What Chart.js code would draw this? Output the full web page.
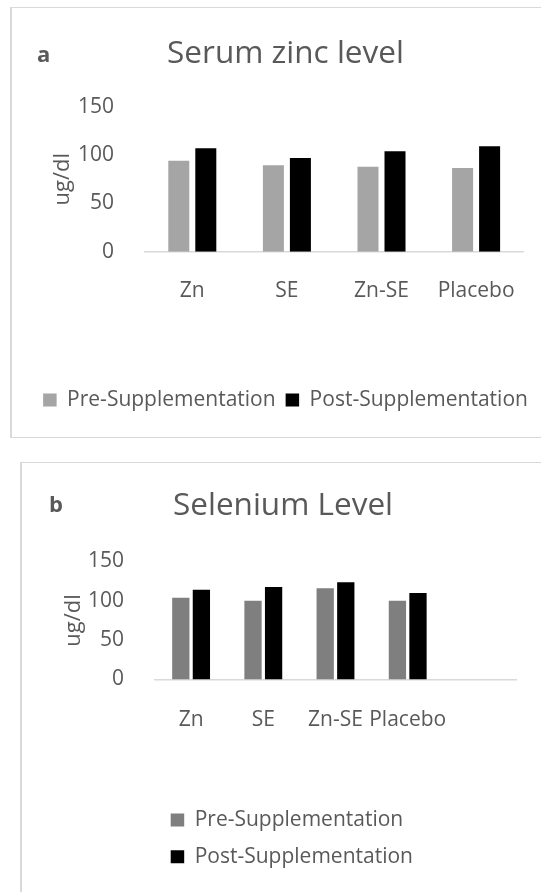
<!DOCTYPE html>
<html>
<head>
<meta charset="utf-8">
<script src="https://cdn.jsdelivr.net/npm/chart.js@4.4.1/dist/chart.umd.min.js"></script>
<style>
  html, body { margin: 0; padding: 0; width: 541px; height: 892px; overflow: hidden; background: #ffffff; font-family: "Open Sans", sans-serif; }
  .frame { position: absolute; box-sizing: border-box; border: 1px solid #D9D9D9; border-left-width: 2px; }
  #frameA { left: 10px; top: 7px; width: 600px; height: 431px; }
  #frameB { left: 20px; top: 462px; width: 600px; height: 500px; }
  .tag { position: absolute; font-family: "Open Sans", sans-serif; font-weight: 700; font-size: 22px; line-height: 22px; color: #595959; }
  .wrap { position: absolute; }
  #wrapA { left: 10px; top: 8px; width: 531px; height: 429px; }
  #wrapB { left: 20px; top: 463px; width: 521px; height: 429px; }
</style>
</head>
<body>
<div class="frame" id="frameA"></div>
<div class="frame" id="frameB"></div>
<div class="wrap" id="wrapA"><canvas id="chartA" width="531" height="429"></canvas></div>
<div class="wrap" id="wrapB"><canvas id="chartB" width="521" height="429"></canvas></div>
<div class="tag" style="left:37px;top:42px">a</div>
<div class="tag" style="left:49px;top:492px">b</div>
<script>
// Serum zinc (panel a)
const zincGroups = ['Zn', 'SE', 'Zn-SE', 'Placebo'];
const zincPre = [94, 89.5, 88, 86.5];
const zincPost = [107, 97, 104, 109];

// Selenium (panel b) – the axis keeps one empty slot at the end
const seleniumGroups = ['Zn', 'SE', 'Zn-SE', 'Placebo', ''];
const seleniumPre = [104, 100, 116, 100, null];
const seleniumPost = [114, 117.5, 123.5, 110, null];

const yTicks = [0, 50, 100, 150];
const seriesNames = ['Pre-Supplementation', 'Post-Supplementation'];

const TEXT = '#595959';
Chart.defaults.font.family = '"Open Sans", sans-serif';
Chart.defaults.color = TEXT;

function panel(canvasId, p) {
  return new Chart(document.getElementById(canvasId), {
    type: 'bar',
    data: {
      labels: p.labels,
      datasets: [
        { label: seriesNames[0], data: p.pre, backgroundColor: p.preColor, borderWidth: 0,
          categoryPercentage: p.cat, barPercentage: p.bar, yAxisID: 'y' },
        { label: seriesNames[1], data: p.post, backgroundColor: '#000000', borderWidth: 0,
          categoryPercentage: p.cat, barPercentage: p.bar, yAxisID: 'y' }
      ]
    },
    options: {
      responsive: false,
      animation: false,
      events: [],
      layout: { padding: { left: p.padLeft, right: 0, top: 0, bottom: p.padBottom } },
      plugins: {
        tooltip: { enabled: false },
        title: {
          display: true, text: p.title, color: TEXT,
          font: { size: 31.5, weight: 'normal', lineHeight: 1.2 },
          padding: { top: p.titleTop, bottom: p.titleBottom }
        },
        legend: {
          position: 'bottom', align: p.legendAlign, fullSize: p.legendFull,
          labels: { boxWidth: 13.5, boxHeight: 13, padding: p.legendPad, color: TEXT, font: { size: 21 } }
        }
      },
      scales: {
        x: {
          grid: { display: false },
          border: { display: true, color: '#D9D9D9', width: 1.5 },
          ticks: { padding: p.xPad, font: { size: 21 }, color: TEXT, maxRotation: 0, autoSkip: false },
          afterFit: s => { s.height = p.xHeight; }
        },
        y: {
          min: 0, max: 150,
          grid: { display: false },
          border: { display: false },
          ticks: { padding: 23, font: { size: 21 }, color: TEXT },
          afterBuildTicks: s => { s.ticks = yTicks.map(v => ({ value: v })); },
          title: { display: true, text: 'ug/dl', color: TEXT, font: { size: 22 }, padding: { top: p.yTitleTop, bottom: 0 } },
          afterFit: s => { s.width = p.yWidth; }
        },
        gap: {
          position: 'right', display: true,
          grid: { display: false }, border: { display: false }, ticks: { display: false },
          afterFit: s => { s.width = p.rightGap; }
        }
      }
    }
  });
}

panel('chartA', {
  labels: zincGroups, pre: zincPre, post: zincPost, preColor: '#A5A5A5',
  title: 'Serum zinc level',
  cat: 0.571, bar: 0.778,
  padLeft: 20, yWidth: 115, yTitleTop: 19.8, rightGap: 17.6,
  titleTop: 27.1, titleBottom: 33.8,
  padBottom: 16.5, legendPad: 10, legendAlign: 'center', legendFull: true,
  xHeight: 127.8, xPad: 19
});

panel('chartB', {
  labels: seleniumGroups, pre: seleniumPre, post: seleniumPost, preColor: '#7F7F7F',
  title: 'Selenium Level',
  cat: 0.57, bar: 0.84,
  padLeft: 5, yWidth: 130, yTitleTop: 35.2, rightGap: 25,
  titleTop: 24.6, titleBottom: 36.1,
  padBottom: 14.8, legendPad: 15.7, legendAlign: 'start', legendFull: false,
  xHeight: 114.3, xPad: 19.6
});
</script>
</body>
</html>
